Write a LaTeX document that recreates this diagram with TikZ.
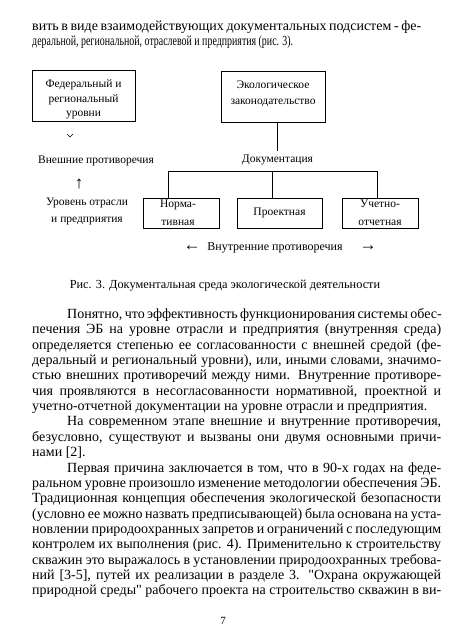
\documentclass[tikz,border=0pt]{standalone}
\usepackage{fontspec}
\setmainfont{Liberation Serif}
\newcommand{\sq}{{\addfontfeature{Ligatures=TeXOff}"}}
\begin{document}
\begin{tikzpicture}[x=1pt,y=-1pt,
  box/.style={draw, line width=1pt, inner sep=0pt},
  dtext/.style={font=\fontsize{11.5}{14.5}\selectfont, align=center, inner sep=0pt},
  arr/.style={font=\fontsize{17}{17}\selectfont, inner sep=0pt},
  body/.style={font=\fontsize{14}{15}\selectfont, anchor=base west, inner sep=0pt},
  link/.style={line width=1pt}]
\useasboundingbox (0,0) rectangle (450,642);
\fill[white] (0,0) rectangle (450,642);
% top text
\node[body] (t1) at (32,31) {\makebox[389pt][s]{вить в виде взаимодействующих документальных подсистем - фе-}};
\node[body] (t2) at (32,46) {\resizebox{261pt}{\height}{деральной, региональной, отраслевой и предприятия (рис. 3).}};
% diagram
\node[box, minimum width=103pt, minimum height=51pt] (fed) at (83.5,95.5) {};
\node[dtext] (fedt) at (83.5,99.5) {Федеральный и\\региональный\\уровни};
\node[box, minimum width=104pt, minimum height=51pt] (eco) at (273,96.5) {};
\node[dtext, font=\fontsize{11.5}{16}\selectfont] (ecot) at (273,94) {Экологическое\\законодательство};
\node[dtext] (ext) at (96,161) {Внешние противоречия};
\node[dtext] (doc) at (277.5,160) {Документация};
\draw[line width=0.7pt] (67,134) -- (70,137) -- (73,134);
\node[arr] (up) at (79,184) {↑};
\node[dtext, font=\fontsize{11.5}{17}\selectfont] (lvl) at (87,211.5) {Уровень отрасли\\и предприятия};
\node[box, minimum width=76pt, minimum height=30pt] (norm) at (181,213) {};
\node[dtext, font=\fontsize{11.5}{18}\selectfont] (normt) at (178,213) {Норма-\\тивная};
\node[box, minimum width=85pt, minimum height=30pt] (proj) at (279.5,213) {};
\node[dtext] (projt) at (279.5,213) {Проектная};
\node[box, minimum width=76pt, minimum height=30pt] (uch) at (380,213) {};
\node[dtext, font=\fontsize{11.5}{18}\selectfont] (ucht) at (380,213) {Учетно-\\отчетная};
\coordinate (bL) at (168,171);
\coordinate (bM) at (272,171);
\coordinate (bR) at (377,171);
\draw[link] (bL |- norm.north) -- (bL) -- (bR) -- (bR |- uch.north);
\draw[link] (bM) -- (bM |- proj.north);
\draw[link] (eco.south -| doc) -- ([yshift=4pt]doc.north);
\node[arr] (inl) at (192,248) {←};
\node[dtext, font=\fontsize{12}{14}\selectfont] (inner) at (275,248) {Внутренние противоречия};
\node[arr] (inr) at (368,248) {→};
\node[dtext, font=\fontsize{12.3}{14}\selectfont] (cap) at (225,286) {Рис. 3. Документальная среда экологической деятельности};
% body
\node[body] (p1) at (67,318.5) {\makebox[374pt][s]{Понятно, что эффективность функционирования системы обес-}};
\node[body] (p2) at (32,333.85) {\makebox[409pt][s]{печения ЭБ на уровне отрасли и предприятия (внутренняя среда)}};
\node[body] (p3) at (32,349.2) {\makebox[409pt][s]{определяется степенью ее согласованности с внешней средой (фе-}};
\node[body] (p4) at (32,364.55) {\makebox[409pt][s]{деральный и региональный уровни), или, иными словами, значимо-}};
\node[body] (p5) at (32,379.9) {\makebox[409pt][s]{стью внешних противоречий между ними. Внутренние противоре-}};
\node[body] (p6) at (32,395.25) {\makebox[409pt][s]{чия проявляются в несогласованности нормативной, проектной и}};
\node[body] (p7) at (32,410.6) {учетно-отчетной документации на уровне отрасли и предприятия.};
\node[body] (q1) at (67,425.95) {\makebox[374pt][s]{На современном этапе внешние и внутренние противоречия,}};
\node[body] (q2) at (32,441.3) {\makebox[409pt][s]{безусловно, существуют и вызваны они двумя основными причи-}};
\node[body] (q3) at (32,456.65) {нами [2].};
\node[body] (r1) at (67,472.0) {\makebox[374pt][s]{Первая причина заключается в том, что в 90-х годах на феде-}};
\node[body] (r2) at (32,487.35) {\makebox[409pt][s]{ральном уровне произошло изменение методологии обеспечения ЭБ.}};
\node[body] (r3) at (32,502.7) {\makebox[409pt][s]{Традиционная концепция обеспечения экологической безопасности}};
\node[body] (r4) at (32,518.05) {\makebox[409pt][s]{(условно ее можно назвать предписывающей) была основана на уста-}};
\node[body] (r5) at (32,533.4) {\makebox[409pt][s]{новлении природоохранных запретов и ограничений с последующим}};
\node[body] (r6) at (32,548.75) {\makebox[409pt][s]{контролем их выполнения (рис. 4). Применительно к строительству}};
\node[body] (r7) at (32,564.1) {\makebox[409pt][s]{скважин это выражалось в установлении природоохранных требова-}};
\node[body] (r8) at (32,579.45) {\makebox[409pt][s]{ний [3-5], путей их реализации в разделе 3. \sq Охрана окружающей}};
\node[body] (r9) at (32,594.8) {\makebox[409pt][s]{природной среды\sq{} рабочего проекта на строительство скважин в ви-}};
\node[dtext, font=\fontsize{11}{13}\selectfont] (pg) at (223,621) {7};
\end{tikzpicture}
\end{document}
